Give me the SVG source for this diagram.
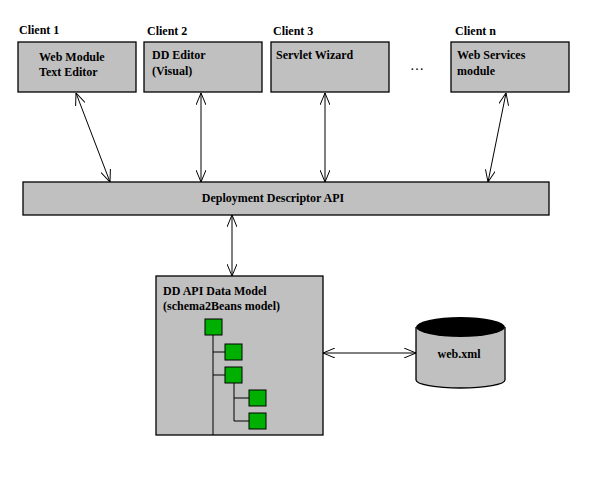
<svg xmlns="http://www.w3.org/2000/svg" width="600" height="500" viewBox="0 0 600 500">
<style>
.box{fill:#c0c0c0;stroke:#000;stroke-width:1.3}
.t{font-family:"Liberation Serif","DejaVu Serif",serif;font-weight:bold;font-size:12px;fill:#000}
.sq{fill:#00b000;stroke:#000;stroke-width:1}
.c{stroke:#000;stroke-width:1;fill:none;marker-start:url(#a);marker-end:url(#a)}
.tree{stroke:#000;stroke-width:1;fill:none}
</style>
<defs><marker id="a" viewBox="0 0 12 10" refX="12" refY="5" markerWidth="12" markerHeight="10" markerUnits="userSpaceOnUse" orient="auto-start-reverse"><path d="M0,0 L12,5 L0,10" fill="none" stroke="#000"/></marker></defs>
<rect width="600" height="500" fill="#fff"/>
<g id="client1"><text class="t" x="19" y="34">Client 1</text><rect class="box" x="18" y="42" width="118" height="50"/><text class="t" x="39" y="61">Web Module</text><text class="t" x="39" y="76">Text Editor</text></g>
<g id="client2"><text class="t" x="147" y="35">Client 2</text><rect class="box" x="144" y="42" width="118" height="50"/><text class="t" x="152" y="59">DD Editor</text><text class="t" x="152" y="75">(Visual)</text></g>
<g id="client3"><text class="t" x="273" y="35">Client 3</text><rect class="box" x="271" y="42" width="118" height="50"/><text class="t" x="276" y="59">Servlet Wizard</text></g>
<text class="t" x="410" y="70" style="font-weight:normal;font-size:14px">…</text>
<g id="clientn"><text class="t" x="455" y="35">Client n</text><rect class="box" x="451" y="42" width="118" height="50"/><text class="t" x="457" y="59">Web Services</text><text class="t" x="457" y="75">module</text></g>
<g id="api"><rect class="box" x="23" y="182" width="526" height="33"/><text class="t" x="273" y="202" text-anchor="middle">Deployment Descriptor API</text></g>
<g id="model"><rect class="box" x="156" y="276" width="167" height="159"/><text class="t" x="163" y="295">DD API Data Model</text><text class="t" x="163" y="310">(schema2Beans model)</text>
<path class="tree" d="M213,335V435M213,352H225M213,375H225M234,383V421M234,398H249M234,421H249"/>
<rect class="sq" x="205" y="319" width="17" height="16"/><rect class="sq" x="225" y="344" width="17" height="16"/><rect class="sq" x="225" y="367" width="17" height="16"/><rect class="sq" x="249" y="390" width="17" height="16"/><rect class="sq" x="249" y="413" width="17" height="16"/></g>
<g id="webxml"><path d="M416,327V380A44.5,8 0 0 0 505,380V327" fill="#c0c0c0" stroke="#000" stroke-width="1.3"/><ellipse cx="460.5" cy="327" rx="44.5" ry="10" fill="#000"/><text class="t" x="459" y="358" text-anchor="middle">web.xml</text></g>
<g id="connectors">
<line class="c" x1="76" y1="93" x2="110" y2="182"/>
<line class="c" x1="201" y1="93" x2="201" y2="182"/>
<line class="c" x1="325" y1="93" x2="325" y2="182"/>
<line class="c" x1="506" y1="93" x2="488" y2="182"/>
<line class="c" x1="232" y1="215" x2="232" y2="276"/>
<line class="c" x1="323" y1="353" x2="416" y2="353"/>
</g>
</svg>
